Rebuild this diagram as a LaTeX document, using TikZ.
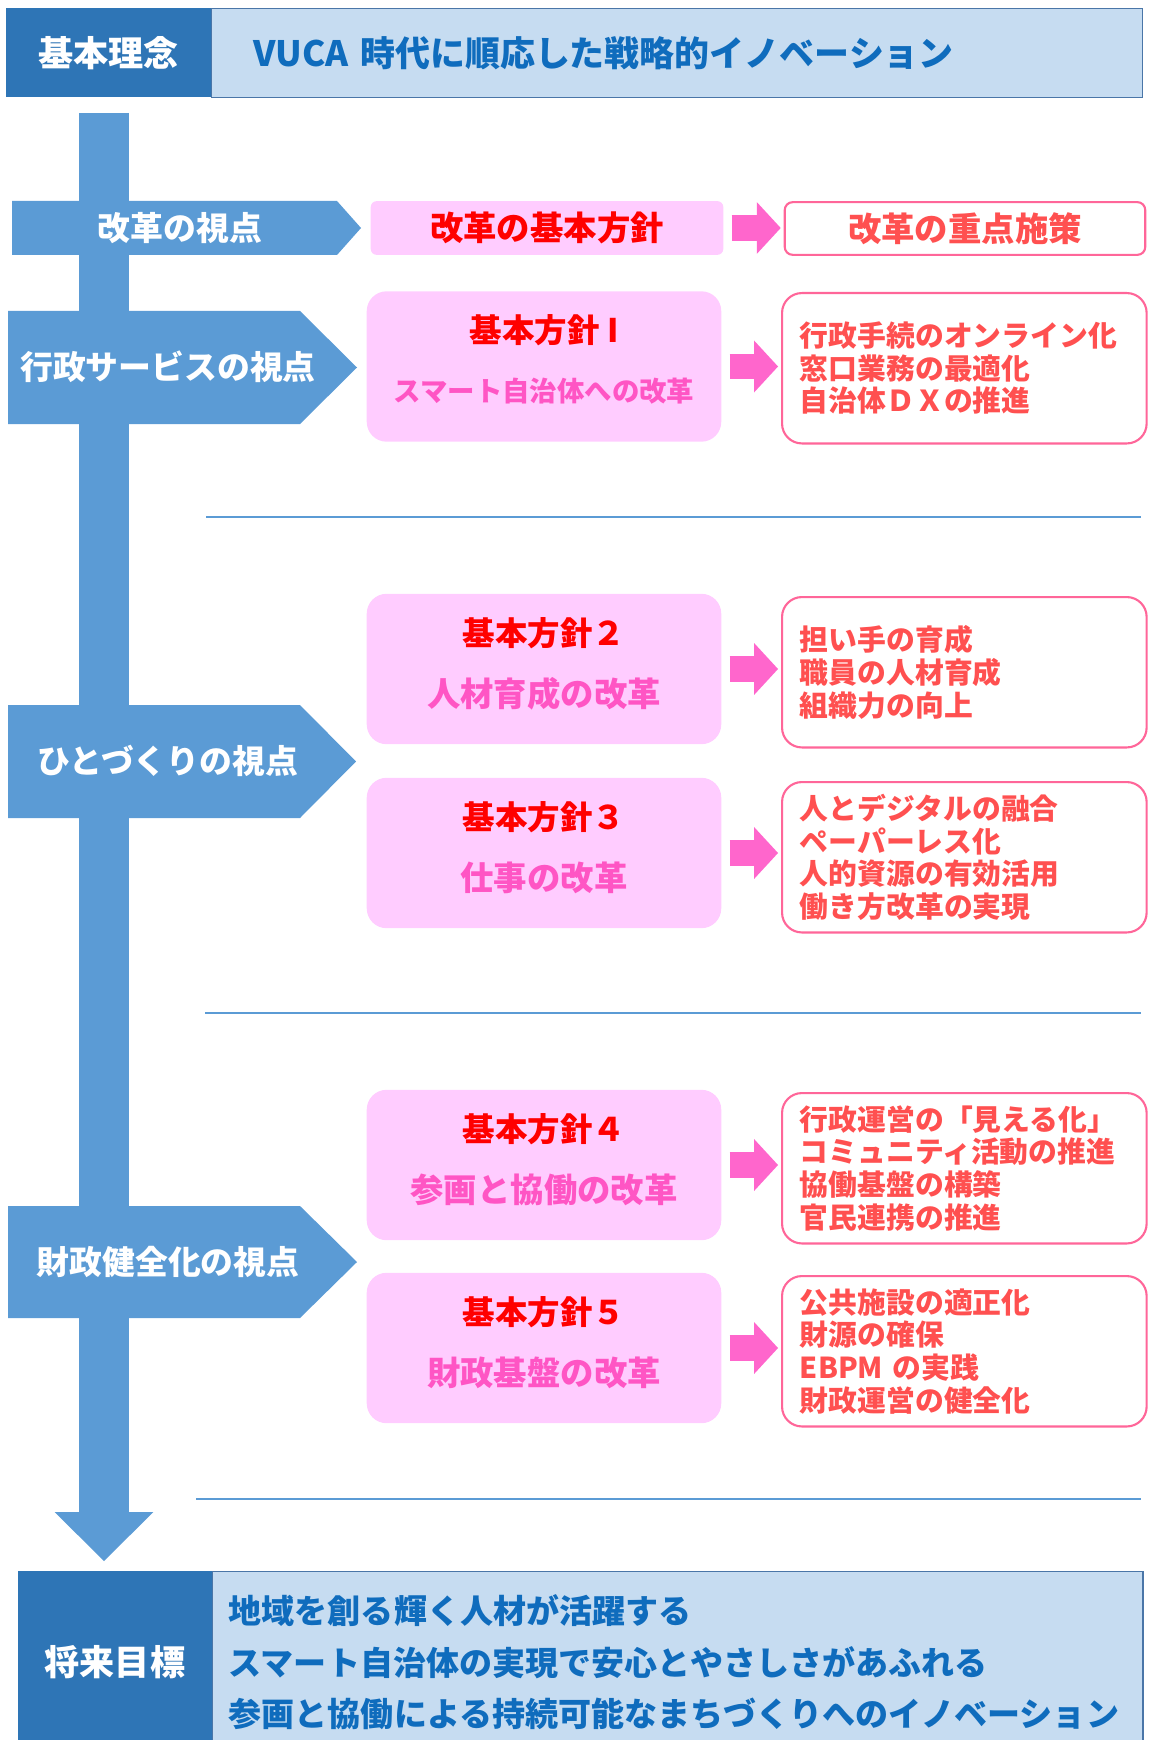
\documentclass[tikz,border=0pt]{standalone}
\usepackage{fontspec}
\setmainfont{Noto Sans CJK JP}
\usetikzlibrary{arrows.meta, calc}

\newlength\px
\setlength\px{0.02cm}

\definecolor{deepblue}{HTML}{2E75B6}
\definecolor{paleblue}{HTML}{C6DCF1}
\definecolor{rimblue}{HTML}{4A76A8}
\definecolor{textblue}{HTML}{0F6CBD}
\definecolor{midblue}{HTML}{5B9BD5}
\definecolor{policypink}{HTML}{FFCCFF}
\definecolor{arrowpink}{HTML}{FF66CC}
\definecolor{rimpink}{HTML}{FF6699}
\definecolor{measurered}{HTML}{FF5050}
\definecolor{titlepink}{HTML}{FF55C4}

\tikzset{
  darkcell/.style={fill=deepblue, text=white, inner sep=0pt,
    font=\bfseries\fontsize{20}{24}\selectfont},
  palecell/.style={fill=paleblue, draw=rimblue, line width=0.7pt, text=textblue,
    align=left, inner ysep=0pt, font=\bfseries\fontsize{18.8}{29.2}\selectfont},
  viewtext/.style={text=white, font=\bfseries\fontsize{18.7}{22}\selectfont},
  policy/.style={fill=policypink, rounded corners=11.3pt,
    minimum width=201.8pt, minimum height=85.6pt},
  policyhead/.style={text=red, font=\bfseries\fontsize{18.5}{22}\selectfont},
  policysub/.style={text=titlepink, font=\bfseries\fontsize{19}{22}\selectfont},
  measures/.style={fill=white, draw=rimpink, line width=1.2pt, rounded corners=11.3pt,
    minimum width=207.5pt, minimum height=85.6pt, inner xsep=10.2pt,
    text width=187.1pt, align=left, text=measurered,
    font=\bfseries\fontsize{16.4}{18.6}\selectfont},
  toarrow/.style={draw=arrowpink, line width=14.7pt, shorten <=4.5pt, shorten >=1.7pt,
    -{Triangle[length=13.6pt, width=29.5pt, line width=0pt]}},
  shaft/.style={draw=midblue, line width=28.3pt,
    -{Triangle[length=27.8pt, width=56.1pt, line width=0pt]}},
  divider/.style={draw=midblue, line width=0.9pt},
}

\begin{document}
\begin{tikzpicture}[x=\px, y=-\px]
\useasboundingbox (0,0) rectangle (1149,1740);

% basic idea
\node[darkcell, anchor=north west, minimum width=116.2pt, minimum height=50.5pt] (idea) at (6,8) {基本理念};
\node[palecell, anchor=north west, minimum width=530pt, minimum height=50.5pt,
      inner xsep=23.8pt, text width=482.4pt, font=\bfseries\fontsize{19.9}{24}\selectfont] (ideatext) at (211,8) {VUCA 時代に順応した戦略的イノベーション};

% main shaft
\coordinate (shafttop) at (104,113);
\coordinate (shafttip) at (104,1561);
\draw[shaft] (shafttop) -- (shafttip);

% viewpoints
\fill[midblue] (12,201) -- (337,201) -- (361,228) -- (337,255) -- (12,255) -- cycle;
\node[viewtext] (view0) at (180,228) {改革の視点};
\fill[midblue] (8,311) -- (300,311) -- (357,367.5) -- (300,424) -- (8,424) -- cycle;
\node[viewtext] (view1) at (168,367) {行政サービスの視点};
\fill[midblue] (8,705) -- (300,705) -- (356,761.5) -- (300,818) -- (8,818) -- cycle;
\node[viewtext] (view2) at (168,761) {ひとづくりの視点};
\fill[midblue] (8,1206) -- (300,1206) -- (357,1262) -- (300,1318) -- (8,1318) -- cycle;
\node[viewtext] (view3) at (168,1262) {財政健全化の視点};

% header row
\node[fill=policypink, rounded corners=3.4pt, minimum width=200.7pt, minimum height=30.6pt,
      text=red, font=\bfseries\fontsize{19}{22}\selectfont] (b0) at (547,228) {改革の基本方針};
\node[fill=white, draw=rimpink, line width=1.2pt, rounded corners=4.5pt, minimum width=205.2pt,
      minimum height=30pt, text=measurered, font=\bfseries\fontsize{19}{22}\selectfont] (r0) at (965,228.5) {改革の重点施策};
\draw[toarrow] (b0.east) -- (b0.east -| r0.west);

% policy 1
\node[policy] (b1) at (544,366.5) {};
\node[policyhead] (b1h) at ($(b1)+(0,-36)$) {基本方針 I};
\node[policysub, font=\bfseries\fontsize{15.6}{18}\selectfont] (b1s) at ($(b1)+(0,25)$) {スマート自治体への改革};
\node[measures, anchor=north west] (r1) at (781,292) {行政手続のオンライン化\\窓口業務の最適化\\自治体ＤＸの推進};
\draw[toarrow] (b1.east) -- (b1.east -| r1.west);

\draw[divider] (206,517) -- (1141,517);

% policy 2
\node[policy] (b2) at (544,669) {};
\node[policyhead] (b2h) at ($(b2)+(0,-36)$) {基本方針２};
\node[policysub] (b2s) at ($(b2)+(0,25)$) {人材育成の改革};
\node[measures, anchor=north west] (r2) at (781,596) {担い手の育成\\職員の人材育成\\組織力の向上};
\draw[toarrow] (b2.east) -- (b2.east -| r2.west);

% policy 3
\node[policy] (b3) at (544,853) {};
\node[policyhead] (b3h) at ($(b3)+(0,-36)$) {基本方針３};
\node[policysub] (b3s) at ($(b3)+(0,25)$) {仕事の改革};
\node[measures, anchor=north west] (r3) at (781,781) {人とデジタルの融合\\ペーパーレス化\\人的資源の有効活用\\働き方改革の実現};
\draw[toarrow] (b3.east) -- (b3.east -| r3.west);

\draw[divider] (205,1013) -- (1141,1013);

% policy 4
\node[policy] (b4) at (544,1165) {};
\node[policyhead] (b4h) at ($(b4)+(0,-36)$) {基本方針４};
\node[policysub] (b4s) at ($(b4)+(0,25)$) {参画と協働の改革};
\node[measures, anchor=north west] (r4) at (781,1092) {行政運営の「見える化」\\コミュニティ活動の推進\\協働基盤の構築\\官民連携の推進};
\draw[toarrow] (b4.east) -- (b4.east -| r4.west);

% policy 5
\node[policy] (b5) at (544,1348) {};
\node[policyhead] (b5h) at ($(b5)+(0,-36)$) {基本方針５};
\node[policysub] (b5s) at ($(b5)+(0,25)$) {財政基盤の改革};
\node[measures, anchor=north west] (r5) at (781,1275) {公共施設の適正化\\財源の確保\\EBPM の実践\\財政運営の健全化};
\draw[toarrow] (b5.east) -- (b5.east -| r5.west);

\draw[divider] (196,1499) -- (1141,1499);

% future goal
\node[darkcell, anchor=north west, minimum width=110pt, minimum height=103.2pt] (goal) at (18,1571) {将来目標};
\node[palecell, anchor=north west, minimum width=529.5pt, minimum height=103.2pt,
      inner xsep=9.2pt, text width=511pt] (goaltext) at (212,1571)
      {地域を創る輝く人材が活躍する\\スマート自治体の実現で安心とやさしさがあふれる\\参画と協働による持続可能なまちづくりへのイノベーション};
\end{tikzpicture}
\end{document}
